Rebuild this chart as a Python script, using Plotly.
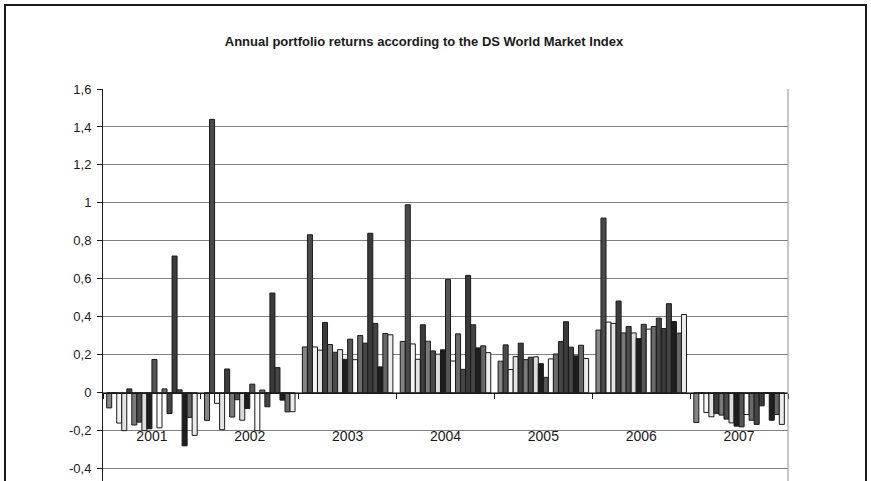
import plotly.graph_objects as go

years = ["2001", "2002", "2003", "2004", "2005", "2006", "2007"]
portfolios = ["P%d" % i for i in range(1, 19)]

r2001 = [-0.08, 0.0, -0.16, -0.20, 0.02, -0.17, -0.155, -0.20, -0.19, 0.175, -0.185, 0.02, -0.11, 0.72, 0.015, -0.28, -0.13, -0.225]
r2002 = [-0.146, 1.44, -0.056, -0.195, 0.125, -0.128, -0.037, -0.145, -0.083, 0.045, -0.20, 0.014, -0.074, 0.525, 0.132, -0.039, -0.101, -0.10]
r2003 = [0.241, 0.832, 0.241, 0.224, 0.37, 0.254, 0.213, 0.227, 0.176, 0.282, 0.174, 0.301, 0.261, 0.84, 0.365, 0.136, 0.312, 0.305]
r2004 = [0.27, 0.99, 0.257, 0.176, 0.358, 0.271, 0.22, 0.203, 0.226, 0.596, 0.167, 0.31, 0.123, 0.618, 0.358, 0.236, 0.247, 0.211]
r2005 = [0.166, 0.252, 0.122, 0.19, 0.261, 0.174, 0.187, 0.189, 0.153, 0.081, 0.178, 0.204, 0.27, 0.374, 0.24, 0.194, 0.25, 0.18]
r2006 = [0.33, 0.92, 0.372, 0.365, 0.483, 0.315, 0.349, 0.315, 0.285, 0.36, 0.335, 0.349, 0.393, 0.338, 0.469, 0.375, 0.314, 0.412]
r2007 = [-0.157, 0.0, -0.104, -0.127, -0.109, -0.118, -0.139, -0.159, -0.176, -0.18, -0.115, -0.145, -0.167, -0.069, 0.0, -0.145, -0.115, -0.167]

by_year = [r2001, r2002, r2003, r2004, r2005, r2006, r2007]

colors = ["#858585", "#4a4a4a", "#f5f5f5", "#e4e4e4", "#3c3c3c", "#7a7a7a",
          "#4a4a4a", "#dcdcdc", "#1e1e1e", "#555555", "#fafafa", "#6a6a6a",
          "#454545", "#3a3a3a", "#444444", "#1e1e1e", "#666666", "#ececec"]

y_tickvals = [-0.4, -0.2, 0, 0.2, 0.4, 0.6, 0.8, 1.0, 1.2, 1.4, 1.6]
y_ticktext = ["-0,4", "-0,2", "0", "0,2", "0,4", "0,6", "0,8", "1", "1,2", "1,4", "1,6"]

W, H = 871, 481
ML, MR, MT, MB = 103, 83, 89, 0
ymax = 1.6
px_per_unit = 303.7 / 1.6
ymin = ymax - (H - MT - MB) / px_per_unit

fig = go.Figure()
for i, name in enumerate(portfolios):
    fig.add_trace(go.Bar(
        x=years,
        y=[yr[i] for yr in by_year],
        name=name,
        marker=dict(color=colors[i], line=dict(color="#1a1a1a", width=1)),
    ))

font = "Liberation Sans, Arial, sans-serif"
pw = W - ML - MR
ph = H - MT - MB
zero_pos = (0 - ymin) / (ymax - ymin)

fig.update_layout(
    width=W, height=H,
    margin=dict(l=ML, r=MR, t=MT, b=MB, pad=0),
    paper_bgcolor="white", plot_bgcolor="white",
    barmode="group", bargap=0.075, bargroupgap=0,
    showlegend=False,
    font=dict(family=font, color="#1a1a1a"),
    title=dict(text="<b>Annual portfolio returns according to the DS World Market Index</b>",
               x=424 / W, xanchor="center", y=1 - 41 / H, yanchor="middle",
               font=dict(size=13, family=font, color="#1a1a1a")),
    xaxis=dict(type="category", anchor="free", position=zero_pos,
               showline=True, linecolor="#1a1a1a", linewidth=1,
               ticks="outside", tickson="boundaries", ticklen=5, tickcolor="#1a1a1a",
               showgrid=False, ticklabelstandoff=30,
               tickfont=dict(size=14, family=font, color="#1a1a1a")),
    yaxis=dict(range=[ymin, ymax], tickvals=y_tickvals, ticktext=y_ticktext,
               showline=True, linecolor="#1a1a1a", linewidth=1,
               ticks="outside", ticklen=5, tickcolor="#1a1a1a",
               showgrid=True, gridcolor="#808080", gridwidth=1,
               zeroline=False, ticklabelstandoff=3,
               tickfont=dict(size=13, family=font, color="#1a1a1a")),
    shapes=[
        dict(type="line", xref="paper", yref="paper", x0=1, x1=1, y0=0, y1=1,
             line=dict(color="#909090", width=1)),
        dict(type="rect", xref="paper", yref="paper",
             x0=(5 - ML) / pw, x1=(866 - ML) / pw,
             y0=-0.2, y1=(H - MB - 5) / ph,
             line=dict(color="#1a1a1a", width=2), fillcolor="rgba(0,0,0,0)", layer="below"),
    ],
)

fig.write_html("out.html", config={"displayModeBar": False},
               post_script="document.body.style.margin='0';document.body.style.overflow='hidden';")
